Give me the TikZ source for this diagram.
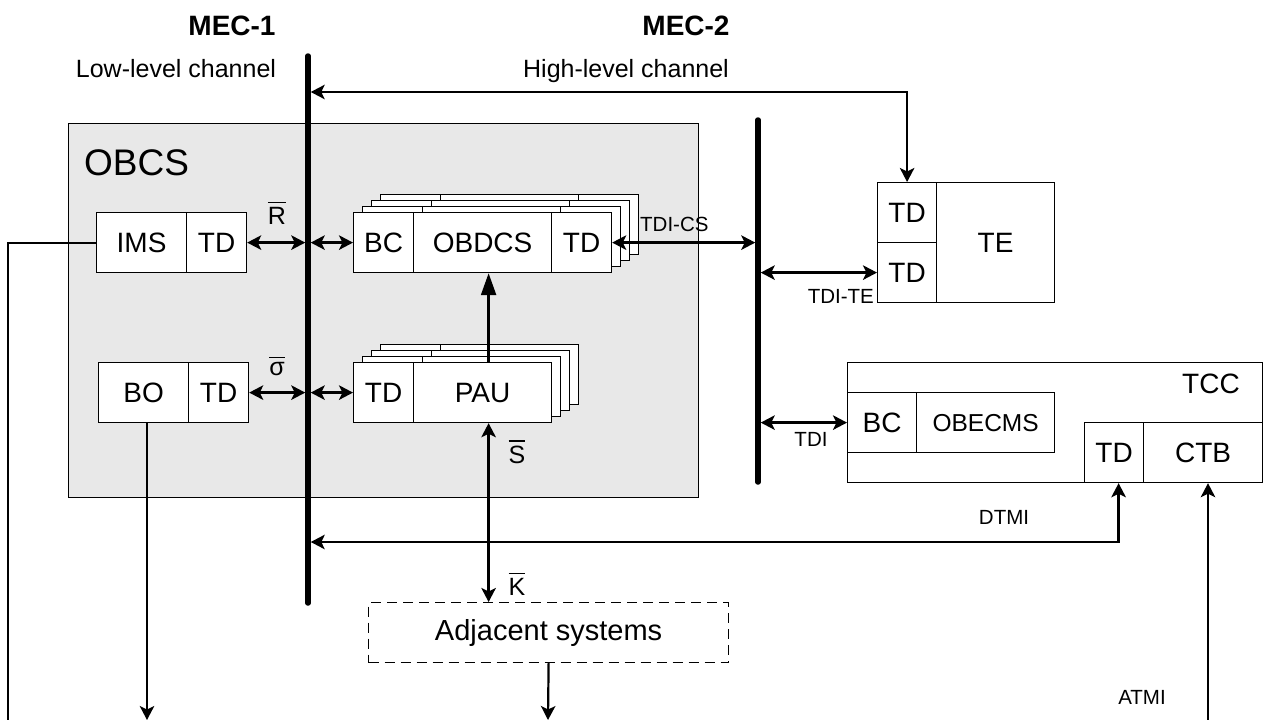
\documentclass[tikz,border=0pt]{standalone}
\usepackage{fontspec}
\setmainfont{Liberation Sans}
\usetikzlibrary{arrows.meta,calc}
\newcommand{\ovl}[1]{\vbox{\hrule height 1.1pt\kern 4pt\hbox{#1}}}
\tikzset{
  cell/.style={draw, fill=white, line width=1.2pt, inner sep=0pt, anchor=north west,
    font=\fontsize{28}{30}\selectfont},
  backcell/.style={draw, fill=white, line width=1.2pt, inner sep=0pt, anchor=north west},
  tip/.tip={Stealth[length=14pt,width=14.5pt,inset=3.5pt]},
  longtip/.tip={Triangle[length=22pt,width=15pt]},
  arr/.style={line width=2.2pt, -tip},
  darr/.style={line width=2.4pt, tip-tip},
  plain/.style={line width=2pt},
  bus/.style={line width=5.5pt, line cap=round},
  title/.style={font=\bfseries\fontsize{28}{30}\selectfont, anchor=base, inner sep=0pt},
  chan/.style={font=\fontsize{25}{28}\selectfont, anchor=base, inner sep=0pt},
  small/.style={font=\fontsize{20.5}{24}\selectfont, anchor=base, inner sep=0pt},
  sym/.style={font=\fontsize{25}{28}\selectfont, anchor=base, inner sep=0pt},
}
\begin{document}
\begin{tikzpicture}[x=1pt,y=-1pt]
\useasboundingbox (0,0) rectangle (1269,720);
% OBCS background
\node[draw, fill=black!9, line width=1.2pt, inner sep=0pt, anchor=north west,
  minimum width=630pt, minimum height=374pt] (obcs) at (68,123) {};
\node[font=\fontsize{37}{40}\selectfont, anchor=base west, inner sep=0pt] (obcslbl) at (84,175) {OBCS};
% buses
\coordinate (b1t) at (308,56);
\coordinate (b1b) at (308,603);
\coordinate (b2t) at (758,120);
\coordinate (b2b) at (758,482);
\draw[bus] (b1t) -- (b1b);
\draw[bus] (b2t) -- (b2b);
% titles
\node[title] (mec1) at (232,35) {MEC-1};
\node[title] (mec2) at (686,35) {MEC-2};
\node[chan] (low) at (176,77) {Low-level channel};
\node[chan] (high) at (626,77) {High-level channel};
% IMS / TD
\node[cell, minimum width=90pt, minimum height=60pt] (ims) at (96,212) {IMS};
\node[cell, minimum width=60pt, minimum height=60pt] (imstd) at (186,212) {TD};
% BO / TD
\node[cell, minimum width=90pt, minimum height=60pt] (bo) at (98,362) {BO};
\node[cell, minimum width=60pt, minimum height=60pt] (botd) at (188,362) {TD};
% OBDCS stack
\foreach \k in {3,2,1}{
  \node[backcell, minimum width=60pt, minimum height=60pt] (obdbc\k) at ({353+9*\k},{212-6*\k}) {};
  \node[backcell, minimum width=138pt, minimum height=60pt] (obdm\k) at ({413+9*\k},{212-6*\k}) {};
  \node[backcell, minimum width=60pt, minimum height=60pt] (obdtd\k) at ({551+9*\k},{212-6*\k}) {};
}
\node[cell, minimum width=60pt, minimum height=60pt] (obdbc) at (353,212) {BC};
\node[cell, minimum width=138pt, minimum height=60pt] (obd) at (413,212) {OBDCS};
\node[cell, minimum width=60pt, minimum height=60pt] (obdtd) at (551,212) {TD};
% PAU stack
\foreach \k in {3,2,1}{
  \node[backcell, minimum width=60pt, minimum height=60pt] (pautd\k) at ({353+9*\k},{362-6*\k}) {};
  \node[backcell, minimum width=138pt, minimum height=60pt] (pau\k) at ({413+9*\k},{362-6*\k}) {};
}
\node[cell, minimum width=60pt, minimum height=60pt] (pautd) at (353,362) {TD};
\node[cell, minimum width=138pt, minimum height=60pt] (pau) at (413,362) {PAU};
% TE
\node[cell, minimum width=59pt, minimum height=60pt] (tetd1) at (877,182) {TD};
\node[cell, minimum width=59pt, minimum height=60pt] (tetd2) at (877,242) {TD};
\node[cell, minimum width=118pt, minimum height=120pt] (te) at (936,182) {TE};
% TCC
\node[cell, minimum width=415pt, minimum height=120pt] (tcc) at (847,362) {};
\node[font=\fontsize{28}{30}\selectfont, anchor=base, inner sep=0pt] (tcclbl) at (1211,393) {TCC};
\node[cell, minimum width=69pt, minimum height=60pt] (tccbc) at (847,392) {BC};
\node[cell, minimum width=138pt, minimum height=60pt, font=\fontsize{24.5}{27}\selectfont] (obecms) at (916,392) {OBECMS};
\node[cell, minimum width=59pt, minimum height=60pt] (ctd) at (1084,422) {TD};
\node[cell, minimum width=119pt, minimum height=60pt] (ctb) at (1143,422) {CTB};
% Adjacent systems
\node[draw, dash pattern=on 10pt off 6pt, line width=1.2pt, inner sep=0pt, anchor=north west,
  minimum width=360pt, minimum height=60pt, font=\fontsize{29}{31}\selectfont] (adj) at (368,602) {Adjacent systems};
% coordinates for free ends
\coordinate (topy) at (308,92);
\coordinate (dtmiy) at (308,542);
\coordinate (ctbend) at (1208,720);
\coordinate (adjend) at (548,720);
\coordinate (boend) at (147,720);
\coordinate (imsend) at (8,720);
\coordinate (sx) at ($(pau.south)+(6,0)$);
% connectors
\draw[darr] (imstd.east) -- ($(imstd.east -| b1t)+(-2.75,0)$);
\draw[darr] ($(obdbc.west -| b1t)+(2.75,0)$) -- (obdbc.west);
\draw[darr] (botd.east) -- ($(botd.east -| b1t)+(-2.75,0)$);
\draw[darr] ($(pautd.west -| b1t)+(2.75,0)$) -- (pautd.west);
\draw[darr] (obdtd.east) -- ($(obdtd.east -| b2t)+(-2.75,0)$);
\draw[line width=2.4pt, -longtip] ($(pau.north)+(6,0)$) -- ($(obd.south)+(6,0)$);
\draw[darr] (sx) -- (sx |- adj.north);
\draw[arr, tip-tip] (tetd1.north) |- ($(topy)+(2.75,0)$);
\draw[darr] ($(tetd2.west -| b2t)+(2.75,0)$) -- (tetd2.west);
\draw[darr] ($(tccbc.west -| b2t)+(2.75,0)$) -- (tccbc.west);
\draw[darr] ($(ctd.south)+(4.5,0)$) |- ($(dtmiy)+(2.75,0)$);
\draw[arr] (ctbend) -- (ctbend |- ctb.south);
\draw[arr] (adj.south) -- (adjend);
\draw[arr] (boend |- bo.south) -- (boend);
\draw[plain] (ims.west) -| (imsend);
% labels
\node[sym] (rlbl) at (277,224) {\ovl{R}};
\node[sym] (slbl) at (277,375) {\ovl{σ}};
\node[sym] (sbar) at (517,463) {\ovl{S}};
\node[sym] (kbar) at (517,595) {\ovl{K}};
\node[small, anchor=base west] (tdics) at (640,231) {TDI-CS};
\node[small, anchor=base east] (tdite) at (874,303) {TDI-TE};
\node[small] (tdi) at (811,446) {TDI};
\node[small] (dtmi) at (1004,524) {DTMI};
\node[small] (atmi) at (1142,704) {ATMI};
\end{tikzpicture}
\end{document}
